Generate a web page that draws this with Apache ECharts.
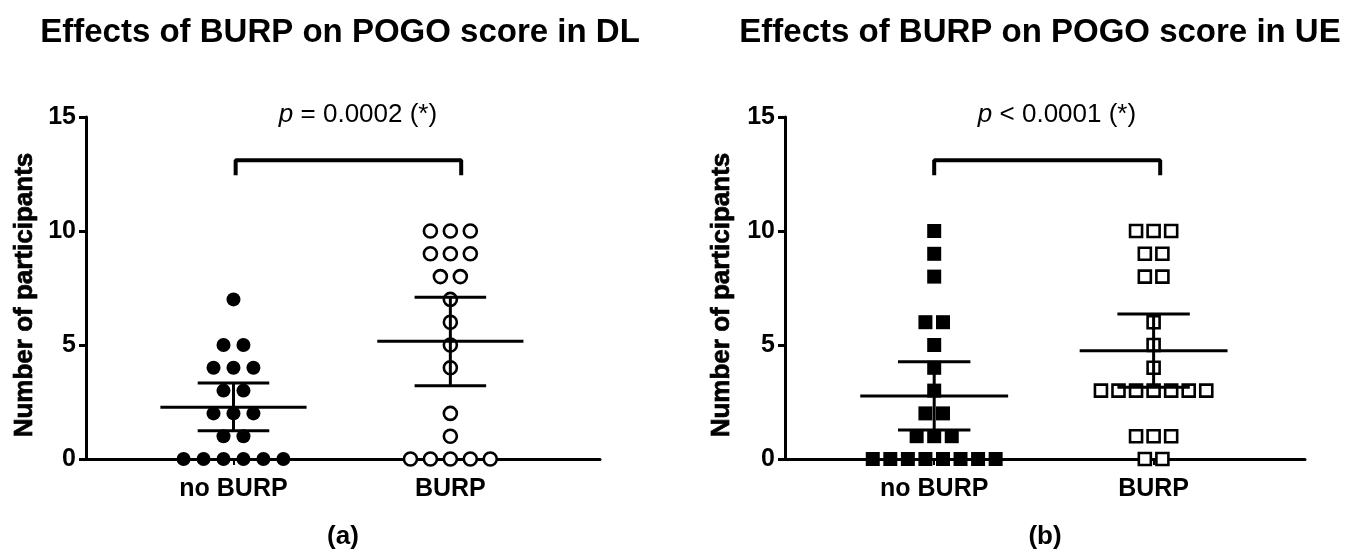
<!DOCTYPE html>
<html><head><meta charset="utf-8">
<script src="https://cdn.jsdelivr.net/npm/echarts@6/dist/echarts.min.js"></script>
<style>html,body{margin:0;padding:0;background:#fff}#c{width:1353px;height:553px}</style>
</head><body><div id="c"></div>
<script>
const categories = ['no BURP', 'BURP'];
const yTicks = [0, 5, 10, 15];
const titles = ['Effects of BURP on POGO score in DL', 'Effects of BURP on POGO score in UE'];
const pTexts = [' = 0.0002 (*)', ' < 0.0001 (*)'];
const panelLabels = ['(a)', '(b)'];
const yName = 'Number of participants';

const dlNoBurp = [7, 5, 5, 4, 4, 4, 3, 3, 2, 2, 2, 1, 1, 0, 0, 0, 0, 0, 0];
const dlBurp = [10, 10, 10, 9, 9, 9, 8, 8, 7, 6, 5, 4, 2, 1, 0, 0, 0, 0, 0];
const ueNoBurp = [10, 9, 8, 6, 6, 5, 4, 3, 2, 2, 1, 1, 1, 0, 0, 0, 0, 0, 0, 0, 0];
const ueBurp = [10, 10, 10, 9, 9, 8, 8, 6, 5, 4, 3, 3, 3, 3, 3, 3, 3, 1, 1, 1, 0, 0];
// [mean, lower 95% CI, upper 95% CI] per group
const dlStats = [[2.27, 1.24, 3.33], [5.16, 3.21, 7.09]];
const ueStats = [[2.76, 1.27, 4.27], [4.75, 3.15, 6.36]];
// significance bracket: [x start, x end, y low, y high]
const dlBracket = [0.01, 1.05, 12.45, 13.1];
const ueBracket = [0.0, 1.03, 12.45, 13.1];

const FONT = '"Liberation Sans", Arial, Helvetica, sans-serif';

function swarm(values, cat, step) {
  const counts = {}, seen = {};
  values.forEach(v => counts[v] = (counts[v] || 0) + 1);
  return values.map(v => {
    const n = counts[v];
    const i = seen[v] = (seen[v] === undefined ? 0 : seen[v] + 1);
    return [cat + (i - (n - 1) / 2) * step, v];
  });
}

function errRender(params, api) {
  const x = api.value(0), m = api.value(1), lo = api.value(2), hi = api.value(3);
  const L = (a, b) => {
    const p1 = api.coord(a), p2 = api.coord(b);
    return { type: 'line', shape: { x1: p1[0], y1: p1[1], x2: p2[0], y2: p2[1] },
      style: { stroke: '#000', lineWidth: 3 } };
  };
  return { type: 'group', children: [
    L([x - 0.337, m], [x + 0.337, m]),
    L([x - 0.165, lo], [x + 0.165, lo]),
    L([x - 0.165, hi], [x + 0.165, hi]),
    L([x, lo], [x, hi])
  ] };
}

const grids = [
  { left: 86, right: 753, top: 117, bottom: 94 },
  { left: 785, right: 48, top: 117, bottom: 94 }
];

function xAx(gi) {
  return {
    type: 'value', gridIndex: gi, min: -0.68, max: 1.69,
    axisLine: { show: true, onZero: false, lineStyle: { color: '#000', width: 3 } },
    axisTick: { show: true, customValues: [0, 1], length: 6, lineStyle: { color: '#000', width: 2 } },
    axisLabel: { show: true, customValues: [0, 1], formatter: v => categories[Math.round(v)],
      color: '#000', fontFamily: FONT, fontWeight: 'bold', fontSize: 25, margin: 18 },
    splitLine: { show: false }
  };
}
function yAx(gi) {
  return {
    type: 'value', gridIndex: gi, min: 0, max: 15, interval: 5,
    axisLine: { show: true, onZero: false, lineStyle: { color: '#000', width: 3 } },
    axisTick: { show: true, length: 7, lineStyle: { color: '#000', width: 3 } },
    axisLabel: { color: '#000', fontFamily: FONT, fontWeight: 'bold', fontSize: 25, margin: 10,
      formatter: v => yTicks.includes(v) ? String(v) : '' },
    splitLine: { show: false }
  };
}

function panelSeries(gi, g0, g1, stats, bracket, shape) {
  const circ = shape === 'circle';
  const step = circ ? 0.092 : 0.08;
  return [
    { type: 'scatter', xAxisIndex: gi, yAxisIndex: gi, data: swarm(g0, 0, step),
      symbol: circ ? 'circle' : 'rect', symbolSize: 14,
      itemStyle: { color: '#000', opacity: 1 }, z: 2, silent: true },
    { type: 'scatter', xAxisIndex: gi, yAxisIndex: gi, data: swarm(g1, 1, step),
      symbol: circ ? 'circle' : 'rect', symbolSize: circ ? 13 : 12,
      itemStyle: { color: '#fff', borderColor: '#000', borderWidth: 2.6, opacity: 1 }, z: 2, silent: true },
    { type: 'custom', xAxisIndex: gi, yAxisIndex: gi, renderItem: errRender, z: 3, silent: true,
      data: stats.map((s, i) => [i, s[0], s[1], s[2]]) },
    { type: 'line', xAxisIndex: gi, yAxisIndex: gi, symbol: 'none', silent: true, z: 3,
      lineStyle: { color: '#000', width: 4 },
      data: [[bracket[0], bracket[2]], [bracket[0], bracket[3]], [bracket[1], bracket[3]], [bracket[1], bracket[2]]] }
  ];
}

function txt(x, y, text, size, weight, rich, rot) {
  const st = { text: text, x: 0, y: 0, align: 'center', verticalAlign: 'middle',
    fontFamily: FONT, fontSize: size, fontWeight: weight, fill: '#000' };
  if (rich) st.rich = rich;
  const el = { type: 'text', x: x, y: y, style: st, silent: true };
  if (rot) {
    el.rotation = rot;
    st.stroke = '#000';
    st.lineWidth = 0.7;
  }
  return el;
}
const pRich = { i: { fontStyle: 'italic', fontFamily: FONT, fontSize: 26, fill: '#000' } };

const chart = echarts.init(document.getElementById('c'), null, { renderer: 'canvas' });
chart.setOption({
  backgroundColor: '#fff',
  animation: false,
  grid: grids,
  xAxis: [xAx(0), xAx(1)],
  yAxis: [yAx(0), yAx(1)],
  series: [].concat(
    panelSeries(0, dlNoBurp, dlBurp, dlStats, dlBracket, 'circle'),
    panelSeries(1, ueNoBurp, ueBurp, ueStats, ueBracket, 'square')
  ),
  graphic: [
    txt(340, 33, titles[0], 33, 'bold'),
    txt(1040, 33, titles[1], 33, 'bold'),
    txt(358, 115, '{i|p}' + pTexts[0], 26, 'normal', pRich),
    txt(1057, 115, '{i|p}' + pTexts[1], 26, 'normal', pRich),
    txt(343, 537, panelLabels[0], 26, 'bold'),
    txt(1045, 537, panelLabels[1], 26, 'bold'),
    txt(25, 295, yName, 26, 'bold', null, Math.PI / 2),
    txt(722, 295, yName, 26, 'bold', null, Math.PI / 2)
  ]
});
</script></body></html>
